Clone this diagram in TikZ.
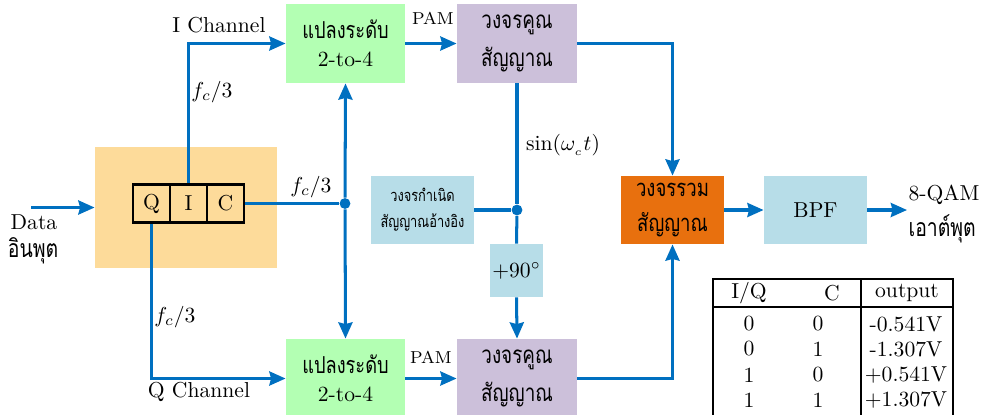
\documentclass[tikz,border=0pt]{standalone}
\usepackage{fontspec}
\newfontfamily\thai[Script=Thai,FakeStretch=0.78]{Loma}
\usetikzlibrary{arrows.meta}
\definecolor{lineblue}{HTML}{0070C0}
\definecolor{yelbox}{HTML}{FDDB9A}
\definecolor{grnbox}{HTML}{B3FFB3}
\definecolor{purbox}{HTML}{CCC0DA}
\definecolor{blubox}{HTML}{B7DDE8}
\definecolor{orabox}{HTML}{E8700E}
\def\u{0.4625pt}
\newcommand\thm{\thai\fontsize{10.8}{13}\selectfont}
\newcommand\thw{\thai\fontsize{11.2}{17.5}\selectfont}
\newcommand\thx{\thai\fontsize{11}{16}\selectfont}
\newcommand\tho{\thai\fontsize{11.5}{14}\selectfont}
\newcommand\ths{\thai\fontsize{7.6}{12}\selectfont}
\begin{document}
\begin{tikzpicture}[x=0.4625pt,y=-0.4625pt,
  blk/.style={rectangle, inner sep=0pt, align=center, font=\normalsize},
  cell/.style={rectangle, draw=black, line width=1.3pt, inner sep=0pt, minimum width=37*\u, minimum height=38*\u},
  wire/.style={draw=lineblue, line width=1.4pt},
  conn/.style={wire, -{Stealth[length=7.5pt,width=6.5pt,inset=0.8pt]}},
  dotnode/.style={circle, fill=lineblue, inner sep=0pt, minimum size=5pt},
  th/.style={font=\tho},
  tline/.style={draw=black, line width=1.2pt}
]
\useasboundingbox (0,0) rectangle (984,414);

% blocks
\node[blk, fill=yelbox, minimum width=182*\u, minimum height=121*\u] (yel) at (186,207.5) {};
\node[cell] (rQ) at (151.5,203.5) {Q};
\node[cell] (rI) at (188.5,203.5) {I};
\node[cell] (rC) at (225.5,203.5) {C};

\node[blk, fill=grnbox, minimum width=119*\u, minimum height=79*\u, font=\fontsize{10}{13}\selectfont] (gtop) at (345.5,43.5) {{\thm แปลงระดับ}\\2-to-4};
\node[blk, fill=purbox, minimum width=120*\u, minimum height=79*\u, font=\thw] (ptop) at (517,43.5) {วงจรคูณ\\สัญญาณ};
\node[blk, fill=grnbox, minimum width=119*\u, minimum height=79*\u, font=\fontsize{10}{13}\selectfont] (gbot) at (345.5,378.5) {{\thm แปลงระดับ}\\2-to-4};
\node[blk, fill=purbox, minimum width=120*\u, minimum height=79*\u, font=\thw] (pbot) at (517,378.5) {วงจรคูณ\\สัญญาณ};

\node[blk, fill=blubox, minimum width=103*\u, minimum height=68*\u, font=\ths] (ref) at (422.5,210) {วงจรกำเนิด\\สัญญาณอ้างอิง};
\node[blk, fill=blubox, minimum width=53*\u, minimum height=53*\u] (ph) at (516.5,270.5) {$+90^\circ$};
\node[blk, fill=orabox, minimum width=103*\u, minimum height=68*\u, font=\thx] (sum) at (672.5,210) {วงจรรวม\\สัญญาณ};
\node[blk, fill=blubox, minimum width=103*\u, minimum height=68*\u] (bpf) at (815.5,210) {BPF};

\node[dotnode] (d1) at (345,203.5) {};
\node[dotnode] (d2) at (517,210) {};

\coordinate (din) at (31,207.5);
\coordinate (dout) at (907,210);

% labels
\node (ldata) at (34,222) {Data};
\node[th] (ldata2) at (33,251) {อินพุต};
\node (lich) at (219,25) {I Channel};
\node (lqch) at (199,392) {Q Channel};
\node (lf1) at (212,92) {$f_c/3$};
\node (lf2) at (311,187) {$f_c/3$};
\node (lf3) at (175,317) {$f_c/3$};
\node[font=\footnotesize] (lpam1) at (433,18) {PAM};
\node[font=\footnotesize] (lpam2) at (431,357) {PAM};
\node (lsin) at (563,145) {$\sin(\omega_{_c} t)$};
\node[anchor=west] (lqam) at (901,195) {8-QAM};
\node[th, anchor=west] (lout) at (901,229) {เอาต์พุต};

% connectors
\draw[conn] (din) -- (yel.west);
\draw[conn] (rI.north) |- (gtop.west);
\draw[conn] (rQ.south) |- (gbot.west);
\draw[wire] (rC.east) -- (d1);
\draw[conn] (d1) -- (gtop.south);
\draw[conn] (d1) -- (gbot.north);
\draw[conn] (gtop.east) -- (ptop.west);
\draw[conn] (gbot.east) -- (pbot.west);
\draw[wire] (ptop.south) -- (d2);
\draw[wire] (ref.east) -- (d2);
\draw[wire] (d2) -- (ph.north);
\draw[conn] (ph.south) -- (pbot.north);
\draw[conn] (ptop.east) -| (sum.north);
\draw[conn] (pbot.east) -| (sum.south);
\draw[conn] (sum.east) -- (bpf.west);
\draw[conn] (bpf.east) -- (dout);

% table
\draw[tline] (713,279) rectangle (953,440);
\draw[tline] (713,307) -- (953,307);
\draw[tline] (861,279) -- (861,440);
\node (h1) at (749,293) {I/Q};
\node (h2) at (832,293) {C};
\node (h3) at (907,293) {output};
\node (a1) at (749,324) {0}; \node (b1) at (818,324) {0}; \node (c1) at (906,324) {-0.541V};
\node (a2) at (749,349) {0}; \node (b2) at (818,349) {1}; \node (c2) at (906,349) {-1.307V};
\node (a3) at (749,375) {1}; \node (b3) at (818,375) {0}; \node (c3) at (906,375) {+0.541V};
\node (a4) at (749,400) {1}; \node (b4) at (818,400) {1}; \node (c4) at (906,400) {+1.307V};
\end{tikzpicture}
\end{document}
